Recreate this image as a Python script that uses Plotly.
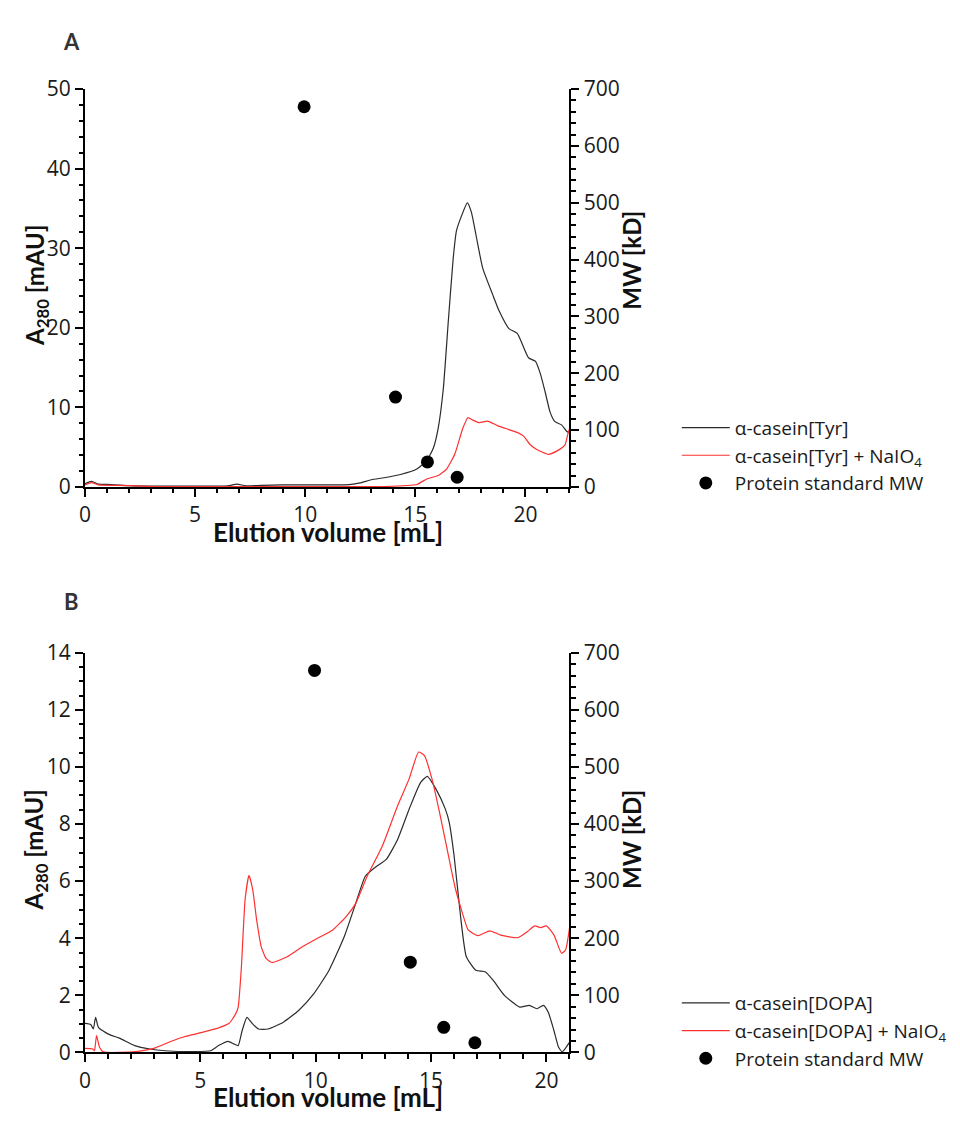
import plotly.graph_objects as go

# ---------------- Panel A: alpha-casein[Tyr] ----------------
tyr_vol = [0, 0.3, 0.6, 1.2, 2, 3, 4, 5, 6, 6.5, 6.9, 7.3, 8, 9, 10, 11, 12, 12.5, 13,
           13.58, 14.33, 15.07, 15.52, 15.82, 16.04, 16.27, 16.49, 16.72, 16.87, 17.09,
           17.36, 17.54, 17.76, 18.06, 18.51, 18.81, 19.25, 19.63, 19.85, 20.15, 20.45,
           20.67, 20.9, 21.12, 21.34, 21.64, 21.87, 22.0]
tyr_abs = [0.4, 0.7, 0.35, 0.3, 0.15, 0.1, 0.1, 0.1, 0.1, 0.15, 0.35, 0.15, 0.2, 0.25, 0.25,
           0.25, 0.3, 0.5, 0.9, 1.15, 1.56, 2.25, 3.3, 4.9, 7.4, 12.3, 20.5, 28.7, 32.2, 34.0,
           35.7, 34.6, 31.6, 27.5, 24.2, 22.1, 19.9, 19.3, 18.0, 16.2, 15.8, 14.3, 11.9, 9.4,
           8.2, 7.8, 7.0, 6.8]

tyr_ox_vol = [0, 0.3, 0.6, 1.5, 2.5, 3, 6, 9, 12, 13, 13.58, 15.07, 15.52, 16.04, 16.42,
              16.79, 17.16, 17.39, 17.61, 17.91, 18.28, 18.73, 19.25, 19.7, 19.93, 20.22,
              20.52, 21.04, 21.42, 21.79, 21.94, 22.0]
tyr_ox_abs = [0.25, 0.55, 0.25, 0.2, 0.1, 0.05, 0.05, 0.05, 0.05, 0.05, 0.05, 0.3, 1.0, 1.43,
              2.25, 4.1, 7.4, 8.7, 8.4, 8.07, 8.28, 7.7, 7.2, 6.76, 6.35, 5.3, 4.7, 4.1, 4.5,
              5.25, 6.8, 7.3]

# ---------------- Panel B: alpha-casein[DOPA] ----------------
dopa_vol = [0, 0.25, 0.36, 0.46, 0.58, 0.99, 1.49, 2.15, 2.81, 3.47, 4.79, 5.45, 5.79, 6.2,
            6.45, 6.64, 6.81, 7.02, 7.27, 7.52, 7.93, 8.6, 9.26, 9.92, 10.58, 11.24, 11.74,
            12.15, 12.56, 13.06, 13.55, 14.05, 14.55, 14.84, 15.21, 15.62, 15.79, 16.0,
            16.28, 16.53, 16.94, 17.36, 17.69, 18.18, 18.84, 19.26, 19.59, 19.87, 20.08,
            20.33, 20.53, 20.69, 21.0]
dopa_abs = [1.02, 0.98, 0.82, 1.23, 0.88, 0.65, 0.5, 0.24, 0.12, 0.06, 0.03, 0.06, 0.24, 0.39,
            0.3, 0.24, 0.76, 1.23, 1.0, 0.82, 0.82, 1.06, 1.47, 2.06, 2.88, 4.06, 5.23, 6.17,
            6.47, 6.76, 7.46, 8.52, 9.46, 9.67, 9.23, 8.52, 8.05, 6.88, 4.76, 3.35, 2.88, 2.82,
            2.53, 2.0, 1.59, 1.65, 1.53, 1.65, 1.41, 0.76, 0.18, 0.02, 0.35]

dopa_ox_vol = [0, 0.33, 0.41, 0.5, 0.63, 0.79, 1.49, 2.31, 2.98, 3.8, 4.3, 5.12, 5.79, 6.25,
               6.53, 6.64, 6.78, 6.94, 7.11, 7.27, 7.44, 7.64, 7.85, 8.1, 8.76, 9.42, 10.08,
               10.74, 11.32, 11.74, 12.23, 12.89, 13.55, 14.05, 14.46, 14.71, 15.04, 15.37,
               15.7, 16.03, 16.36, 16.61, 17.02, 17.55, 18.02, 18.76, 19.17, 19.5, 19.75,
               20.0, 20.33, 20.66, 20.83, 21.0]
dopa_ox_abs = [0.14, 0.12, 0.06, 0.59, 0.18, 0.02, 0.0, 0.04, 0.14, 0.41, 0.55, 0.71, 0.86,
               1.02, 1.35, 1.59, 3.0, 5.35, 6.2, 5.7, 4.64, 3.7, 3.29, 3.15, 3.35, 3.7, 4.0,
               4.29, 4.76, 5.23, 6.17, 7.23, 8.64, 9.58, 10.52, 10.4, 9.58, 8.4, 7.11, 5.82,
               4.88, 4.29, 4.09, 4.26, 4.11, 4.02, 4.23, 4.43, 4.37, 4.43, 4.11, 3.47, 3.59,
               4.35]

# ---------------- Protein standards (MW, kD) ----------------
std_vol = [9.95, 14.1, 15.55, 16.9]
std_mw = [669, 158, 44, 17]

W, H = 960, 1122
X0, X1 = 79.5, 567          # plot area, px
A_TOP, A_BOT = 76, 484
B_TOP, B_BOT = 654, 1064


def px(v):
    return v / W


def py(v):
    return 1 - v / H


TICK_FONT = dict(family="Open Sans", size=21, color="#1a1a1a")
XTITLE_FONT = dict(family="Lato", size=26, color="#111111")
YTITLE_FONT = dict(family="Lato", size=24, color="#111111")
LEG_FONT = dict(family="Open Sans", size=19, color="#1a1a1a")


def axis_style(dtick, minor_dtick, rng):
    return dict(
        range=rng, dtick=dtick, tick0=0, showgrid=False, zeroline=False,
        showline=True, linecolor="black", linewidth=2,
        ticks="outside", ticklen=8, tickwidth=2, tickcolor="black",
        minor=dict(dtick=minor_dtick, tick0=0, ticks="outside", ticklen=4.5,
                   tickwidth=1.5, tickcolor="black"),
        tickfont=TICK_FONT, fixedrange=True,
    )


fig = go.Figure()

line_black = dict(color="#2b2b2b", width=1.2, shape="spline", smoothing=0.5)
line_red = dict(color="#ff3030", width=1.2, shape="spline", smoothing=0.5)
dot = dict(color="black", size=13, symbol="circle")

fig.add_trace(go.Scatter(x=tyr_vol, y=tyr_abs, mode="lines", line=line_black,
                         name="α-casein[Tyr]", xaxis="x", yaxis="y", legend="legend"))
fig.add_trace(go.Scatter(x=tyr_ox_vol, y=tyr_ox_abs, mode="lines", line=line_red,
                         name="α-casein[Tyr] + NaIO<sub>4</sub>", xaxis="x", yaxis="y",
                         legend="legend"))
fig.add_trace(go.Scatter(x=std_vol, y=std_mw, mode="markers", marker=dot,
                         name="Protein standard MW", xaxis="x", yaxis="y2",
                         legend="legend"))

fig.add_trace(go.Scatter(x=dopa_vol, y=dopa_abs, mode="lines", line=line_black,
                         name="α-casein[DOPA]", xaxis="x2", yaxis="y3", legend="legend2"))
fig.add_trace(go.Scatter(x=dopa_ox_vol, y=dopa_ox_abs, mode="lines", line=line_red,
                         name="α-casein[DOPA] + NaIO<sub>4</sub>", xaxis="x2", yaxis="y3",
                         legend="legend2"))
fig.add_trace(go.Scatter(x=std_vol, y=std_mw, mode="markers", marker=dot,
                         name="Protein standard MW", xaxis="x2", yaxis="y4",
                         legend="legend2"))

dom_x = [px(X0), px(X1)]
dom_a = [py(A_BOT), py(A_TOP)]
dom_b = [py(B_BOT), py(B_TOP)]

legend_common = dict(xanchor="left", yanchor="middle", font=LEG_FONT, itemwidth=48,
                     bgcolor="rgba(0,0,0,0)", tracegroupgap=0, borderwidth=0)

fig.update_layout(
    width=W, height=H, margin=dict(l=0, r=0, t=0, b=0),
    paper_bgcolor="white", plot_bgcolor="white",
    xaxis=dict(domain=dom_x, anchor="y", **axis_style(5, 1, [0, 22])),
    yaxis=dict(domain=dom_a, anchor="x", **axis_style(10, 2, [0, 50])),
    yaxis2=dict(overlaying="y", side="right", anchor="x", **axis_style(100, 20, [0, 700])),
    xaxis2=dict(domain=dom_x, anchor="y3", **axis_style(5, 1, [0, 21])),
    yaxis3=dict(domain=dom_b, anchor="x2", **axis_style(2, 0.5, [0, 14])),
    yaxis4=dict(overlaying="y3", side="right", anchor="x2", **axis_style(100, 20, [0, 700])),
    legend=dict(x=px(675), y=py(452), **legend_common),
    legend2=dict(x=px(675), y=py(1042), **legend_common),
    showlegend=True,
)

annotations = []
for label, ymid in (("A", 27), ("B", 601)):
    annotations.append(dict(text=f"<b>{label}</b>", x=px(66), y=py(ymid), xref="paper",
                            yref="paper", showarrow=False, xanchor="center", yanchor="middle",
                            font=dict(family="Lato", size=22, color="#333333")))

for top, bot, right_mid in ((A_TOP, A_BOT, 252), (B_TOP, B_BOT, 846)):
    mid = (top + bot) / 2 - 3
    annotations.append(dict(text="<b>A<sub>280</sub> [mAU]</b>", x=px(30), y=py(mid),
                            xref="paper", yref="paper", showarrow=False, textangle=-90,
                            xanchor="center", yanchor="middle", font=YTITLE_FONT))
    annotations.append(dict(text="<b>MW [kD]</b>", x=px(630), y=py(right_mid), xref="paper",
                            yref="paper", showarrow=False, textangle=-90, xanchor="center",
                            yanchor="middle", font=YTITLE_FONT))
    annotations.append(dict(text="<b>Elution volume [mL]</b>", x=px(324), y=py(bot + 46),
                            xref="paper", yref="paper", showarrow=False, xanchor="center",
                            yanchor="middle", font=XTITLE_FONT))

fig.update_layout(annotations=annotations)

fig.write_html("out.html")
